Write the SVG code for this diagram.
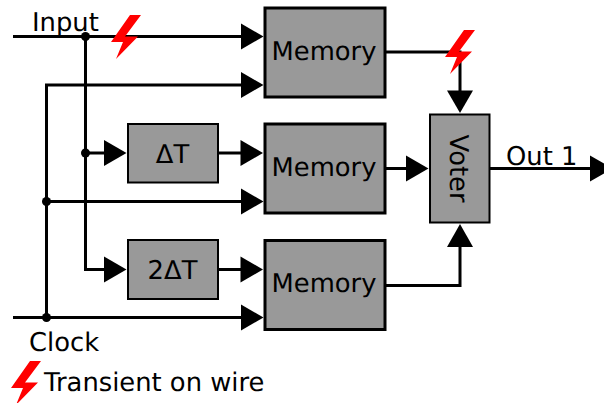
<svg xmlns="http://www.w3.org/2000/svg" width="604" height="403" viewBox="0 0 604 403">
<style>
.w{fill:none;stroke:#000;stroke-width:3}
.a{fill:#000}
.b{fill:#999;stroke:#000}
.t{font-family:"DejaVu Sans",sans-serif;font-size:25.800px;fill:#000;text-rendering:geometricPrecision}
.m{text-anchor:middle}
.z{fill:#f00}
</style>
<defs>
<path id="bolt" d="M19 0L30 0L14 21.500L27 21.500L5 44L12 27L0 27Z" class="z"/>
<path id="r" d="M0 -13L22.500 0L0 13Z" class="a"/>
</defs>
<g id="connectors">
<path class="w" d="M13 36.500H242"/>
<path class="w" d="M85.500 36.500V269.500H105"/>
<path class="w" d="M85.500 153H105"/>
<path class="w" d="M242 85H46.500V317.500"/>
<path class="w" d="M46.500 201.500H242"/>
<path class="w" d="M13 317.500H242"/>
<path class="w" d="M218 153H241"/>
<path class="w" d="M218 269.500H241"/>
<path class="w" d="M385 52H460V91"/>
<path class="w" d="M385 168.500H407"/>
<path class="w" d="M385 285.500H460V247"/>
<path class="w" d="M490 168.500H590"/>
<circle class="a" cx="85.500" cy="36.500" r="4.500"/>
<circle class="a" cx="85.500" cy="153" r="4.500"/>
<circle class="a" cx="46.500" cy="201.500" r="4.500"/>
<circle class="a" cx="46.500" cy="317.500" r="4.500"/>
<use href="#r" x="241" y="36.500"/>
<use href="#r" x="241" y="85"/>
<use href="#r" x="104" y="153"/>
<use href="#r" x="240.500" y="153"/>
<use href="#r" x="241" y="201.500"/>
<use href="#r" x="104" y="269.500"/>
<use href="#r" x="240.500" y="269.500"/>
<use href="#r" x="241" y="317.500"/>
<use href="#r" x="406" y="168.500"/>
<use href="#r" x="590" y="168.500"/>
<path class="a" d="M447 90.500H473L460 113Z"/>
<path class="a" d="M447 247H473L460 224Z"/>
</g>
<g id="memory1"><rect class="b" x="265" y="8" width="120" height="89" stroke-width="3"/><text class="t m" x="324" y="60">Memory</text></g>
<g id="memory2"><rect class="b" x="265" y="124" width="120" height="89" stroke-width="3"/><text class="t m" x="324" y="176">Memory</text></g>
<g id="memory3"><rect class="b" x="265" y="240.500" width="120" height="89" stroke-width="3"/><text class="t m" x="324" y="292">Memory</text></g>
<g id="delay1"><rect class="b" x="128" y="124" width="90" height="58.500" stroke-width="2"/><text class="t m" x="172.500" y="163">ΔT</text></g>
<g id="delay2"><rect class="b" x="128" y="240" width="90" height="59" stroke-width="2"/><text class="t m" x="172.500" y="279">2ΔT</text></g>
<g id="voter"><rect class="b" x="430" y="114.500" width="59.500" height="108" stroke-width="2"/><text class="t m" transform="translate(449.500 168.500) rotate(90)">Voter</text></g>
<g id="labels">
<text class="t" x="32" y="31">Input</text>
<text class="t" x="29" y="351">Clock</text>
<text class="t" x="506" y="165">Out 1</text>
<text class="t" x="44" y="391">Transient on wire</text>
</g>
<g id="transients">
<use href="#bolt" x="111" y="15"/>
<use href="#bolt" x="445" y="30"/>
<use href="#bolt" x="11" y="361"/>
</g>
</svg>
